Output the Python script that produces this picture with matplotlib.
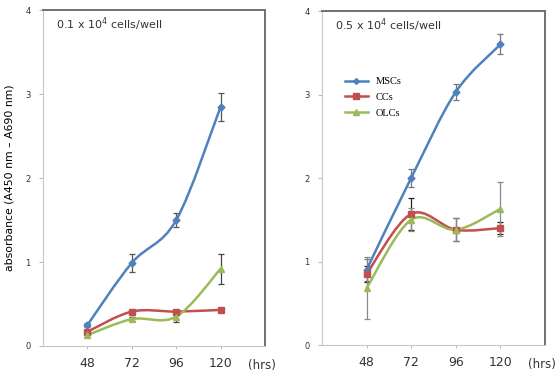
import numpy as np
import matplotlib
matplotlib.use("Agg")
import matplotlib.pyplot as plt
from matplotlib.path import Path
from matplotlib.patches import PathPatch
from matplotlib.lines import Line2D

hours = ["48", "72", "96", "120"]
xpos = [1, 2, 3, 4]

# 0.1 x 10^4 cells/well
msc_a = [0.25, 0.99, 1.50, 2.85]
msc_a_err = [0.02, 0.11, 0.08, 0.17]
cc_a = [0.17, 0.41, 0.41, 0.43]
cc_a_err = [0.02, 0.02, 0.02, 0.02]
olc_a = [0.13, 0.32, 0.35, 0.92]
olc_a_err = [0.02, 0.02, 0.06, 0.18]

# 0.5 x 10^4 cells/well
msc_b = [0.90, 2.00, 3.03, 3.60]
msc_b_err = [0.13, 0.11, 0.10, 0.12]
cc_b = [0.85, 1.57, 1.38, 1.40]
cc_b_err = [0.10, 0.19, 0.14, 0.07]
olc_b = [0.68, 1.50, 1.38, 1.63]
olc_b_err = [0.37, 0.14, 0.14, 0.32]

blue = "#4F81BD"
red = "#C0504D"
green = "#9BBB59"


def smooth(ax, x, y, color):
    # excel style smoothed line (bezier through the points)
    x = np.asarray(x, float)
    y = np.asarray(y, float)
    n = len(x)
    verts = [(x[0], y[0])]
    codes = [Path.MOVETO]
    for i in range(n - 1):
        p0 = (x[max(i - 1, 0)], y[max(i - 1, 0)])
        p1 = (x[i], y[i])
        p2 = (x[i + 1], y[i + 1])
        p3 = (x[min(i + 2, n - 1)], y[min(i + 2, n - 1)])
        c1 = (p1[0] + (p2[0] - p0[0]) / 6, p1[1] + (p2[1] - p0[1]) / 6)
        c2 = (p2[0] - (p3[0] - p1[0]) / 6, p2[1] - (p3[1] - p1[1]) / 6)
        verts += [c1, c2, p2]
        codes += [Path.CURVE4] * 3
    ax.add_patch(PathPatch(Path(verts, codes), fill=False, edgecolor=color, lw=1.8, zorder=3))


def panel(ax, series, title):
    for y, err, color, marker, ms, ecol in series:
        ax.errorbar(xpos, y, yerr=err, fmt="none", ecolor=ecol, elinewidth=0.9, capsize=2, capthick=0.9, zorder=2)
        smooth(ax, xpos, y, color)
        ax.plot(xpos, y, ls="none", marker=marker, ms=ms, color=color, zorder=4)
    ax.set_xlim(0, 5)
    ax.set_ylim(0, 4)
    ax.set_yticks([0, 1, 2, 3, 4])
    ax.set_xticks(xpos)
    ax.set_xticklabels(hours, fontsize=9, color="#333333")
    ax.text(4.93, -0.23, "(hrs)", transform=ax.transData, fontsize=8.5, color="#333333",
            ha="center", va="center", clip_on=False)
    ax.tick_params(axis="y", labelsize=6, length=3, color="#bbbbbb", labelcolor="#333333", pad=6)
    ax.tick_params(axis="x", length=2, color="#bbbbbb", pad=6)
    for s in ["left", "bottom"]:
        ax.spines[s].set_color("#c8c8c8")
    for s in ["top", "right"]:
        ax.spines[s].set_color("#707070")
        ax.spines[s].set_linewidth(1.4)
    ax.text(0.06, 0.985, title, transform=ax.transAxes, fontsize=8, va="top", ha="left", color="#333333")


fig = plt.figure(figsize=(5.55, 3.73), dpi=100)
ax1 = fig.add_axes([0.0775, 0.0724, 0.400, 0.900])
ax2 = fig.add_axes([0.580, 0.075, 0.402, 0.8955])

panel(ax1, [
    (msc_a, msc_a_err, blue, "D", 3.5, "#555555"),
    (cc_a, cc_a_err, red, "s", 5, "#222222"),
    (olc_a, olc_a_err, green, "^", 5, "#444444"),
], r"0.1 x 10$^4$ cells/well")
panel(ax2, [
    (msc_b, msc_b_err, blue, "D", 3.5, "#777777"),
    (cc_b, cc_b_err, red, "s", 5, "#222222"),
    (olc_b, olc_b_err, green, "^", 5, "#888888"),
], r"0.5 x 10$^4$ cells/well")

ax1.set_ylabel("absorbance (A450 nm \u2013 A690 nm)", fontsize=7.8, labelpad=8)

handles = [
    Line2D([], [], color=blue, marker="D", ms=3, lw=1.8),
    Line2D([], [], color=red, marker="s", ms=4, lw=1.8),
    Line2D([], [], color=green, marker="^", ms=4, lw=1.8),
]
ax2.legend(handles, ["MSCs", "CCs", "OLCs"], loc="upper left", bbox_to_anchor=(0.06, 0.83),
           frameon=False, prop={"family": "Liberation Serif", "size": 7.5},
           handlelength=2.2, labelspacing=0.6)

fig.savefig("out.png", dpi=100)
